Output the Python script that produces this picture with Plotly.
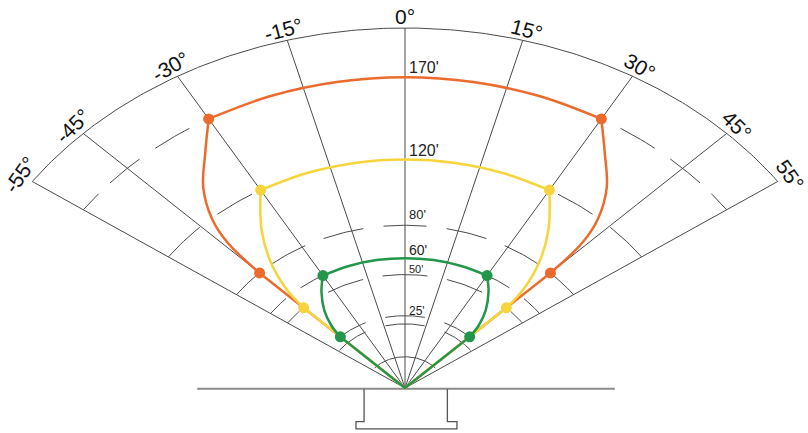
import math
import plotly.graph_objects as go

# ---------------- data ----------------
angle_ticks = [-55, -45, -30, -15, 0, 15, 30, 45, 55]
angle_tick_text = ["-55°", "-45°", "-30°", "-15°", "0°", "15°", "30°", "45°", "55°"]

range_labels = ["170'", "120'", "80'", "60'", "50'", "25'"]
range_label_dist = [170, 120, 80, 60, 50, 25]

outer_dist = 200

# detection-zone outlines (angle in degrees, distance in feet), drawn in three pieces:
# left flank, top arc, right flank
orange_left_theta = [-45, -44, -42, -38.5, -34, -30]
orange_left_dist = [80, 104, 120, 137, 153, 170]
orange_top_theta = [-30, -20, -10, 0, 10, 20, 30]
orange_top_dist = [170, 170, 170, 170, 170, 170, 170]
orange_right_theta = [30, 34, 38.5, 42, 44, 45]
orange_right_dist = [170, 153, 137, 120, 104, 80]

yellow_left_theta = [-45, -43.5, -40, -35.5, -30]
yellow_left_dist = [50, 64, 82, 100, 120]
yellow_top_theta = [-30, -20, -10, 0, 10, 20, 30]
yellow_top_dist = [120, 120, 120, 120, 120, 120, 120]
yellow_right_theta = [30, 35.5, 40, 43.5, 45]
yellow_right_dist = [120, 100, 82, 64, 50]

green_left_theta = [-45, -43, -39.5, -34.5, -30]
green_left_dist = [25, 33, 42, 52, 60]
green_top_theta = [-30, -20, -10, 0, 10, 20, 30]
green_top_dist = [60, 60, 60, 60, 60, 60, 60]
green_right_theta = [30, 34.5, 39.5, 43, 45]
green_right_dist = [60, 52, 42, 33, 25]

marker_theta = [-45, -30, 30, 45]
orange_marker_dist = [80, 170, 170, 80]
yellow_marker_dist = [50, 120, 120, 50]
green_marker_dist = [25, 60, 60, 25]

# dashed range arcs: distance and the angular spans of their dashes
ring_dist = [0, 20, 25, 50, 60, 80, 120, 170]
ring_dashes = [
    [(-50, 50)],
    [(-54, -29), (-14, 14), (29, 54)],
    [(-45, -25.5), (-12.5, 12.5), (25.5, 45)],
    [(-55, -47.5), (-32.5, -17), (-9, 9), (17, 32.5), (47.5, 55)],
    [(-55, -46.5), (-39.5, -28), (28, 39.5), (46.5, 55)],
    [(-55, -46.5), (-40.5, -29), (-23.3, -11.7), (-6, 6), (11.7, 23.3), (29, 40.5), (46.5, 55)],
    [(-55, -45.3), (-40.5, -32), (32, 40.5), (45.3, 55)],
    [(-55, -51.3), (-48.7, -42.5), (-39.5, -33.3), (33.3, 39.5), (42.5, 48.7), (51.3, 55)],
]

# sensor mount drawn under the origin (x, y in chart units)
baseline_x = [-100, 101]
mount_x = [-19.7, -19.7, -23.6, -23.6, 25.0, 25.0, 20.4, 20.4]
mount_y = [-0.6, -20.5, -20.5, -24.9, -24.9, -20.5, -20.5, -0.6]

# ---------------- geometry helpers ----------------
HOLE = 19.0  # the 0' ring sits this far from the sensor point


def polar_xy(theta_deg, dist):
    r = dist + HOLE
    t = math.radians(theta_deg)
    return r * math.sin(t), r * math.cos(t)


def curve_xy(thetas, dists):
    pts = [polar_xy(t, d) for t, d in zip(thetas, dists)]
    return [p[0] for p in pts], [p[1] for p in pts]


def arc_xy(dist, a0, a1, step=1.0):
    n = max(2, int(abs(a1 - a0) / step) + 1)
    xs, ys = [], []
    for i in range(n + 1):
        a = a0 + (a1 - a0) * i / n
        x, y = polar_xy(a, dist)
        xs.append(x)
        ys.append(y)
    return xs, ys


W, H = 808, 433
ORIGIN_PX = (405, 388)
PX_PER_UNIT_X = 455 / (outer_dist + HOLE)
PX_PER_UNIT_Y = 360 / (outer_dist + HOLE)

ORANGE = "#EC6A2C"
YELLOW = "#F6D53C"
GREEN = "#22964A"
GRID = "#4a4a4a"
FONT = "Liberation Sans, Arial, sans-serif"

fig = go.Figure()

# baseline + mount
fig.add_trace(go.Scatter(x=baseline_x, y=[-0.5, -0.5], mode="lines",
                         line=dict(color="#8a8a8a", width=2), hoverinfo="skip"))
fig.add_trace(go.Scatter(x=mount_x, y=mount_y, mode="lines",
                         line=dict(color="#555555", width=1.3), hoverinfo="skip"))

# spokes
sx, sy = [], []
for a in angle_ticks:
    x1, y1 = polar_xy(a, outer_dist)
    sx += [0.0, x1, None]
    sy += [0.0, y1, None]
fig.add_trace(go.Scatter(x=sx, y=sy, mode="lines", line=dict(color=GRID, width=1), hoverinfo="skip"))

# outer arc
ox, oy = arc_xy(outer_dist, angle_ticks[0], angle_ticks[-1], 0.5)
fig.add_trace(go.Scatter(x=ox, y=oy, mode="lines", line=dict(color=GRID, width=1), hoverinfo="skip"))

# dashed range arcs
gx, gy = [], []
for d, dashes in zip(ring_dist, ring_dashes):
    for a0, a1 in dashes:
        xs, ys = arc_xy(d, a0, a1)
        gx += xs + [None]
        gy += ys + [None]
fig.add_trace(go.Scatter(x=gx, y=gy, mode="lines", line=dict(color=GRID, width=1), hoverinfo="skip"))

# zones
zones = [
    ((orange_left_theta, orange_left_dist), (orange_top_theta, orange_top_dist),
     (orange_right_theta, orange_right_dist), orange_marker_dist, ORANGE),
    ((yellow_left_theta, yellow_left_dist), (yellow_top_theta, yellow_top_dist),
     (yellow_right_theta, yellow_right_dist), yellow_marker_dist, YELLOW),
    ((green_left_theta, green_left_dist), (green_top_theta, green_top_dist),
     (green_right_theta, green_right_dist), green_marker_dist, GREEN),
]
for left, top, right, mdists, color in zones:
    # straight legs from the sensor to the outermost-angle points
    lx0, ly0 = polar_xy(left[0][0], left[1][0])
    lx1, ly1 = polar_xy(right[0][-1], right[1][-1])
    fig.add_trace(go.Scatter(x=[lx0, 0, lx1], y=[ly0, 0, ly1], mode="lines",
                             line=dict(color=color, width=2.5), hoverinfo="skip"))
    for thetas, dists in (left, top, right):
        cx, cy = curve_xy(thetas, dists)
        fig.add_trace(go.Scatter(x=cx, y=cy, mode="lines",
                                 line=dict(color=color, width=2.5, shape="spline", smoothing=1.0),
                                 hoverinfo="skip"))
    mx, my = curve_xy(marker_theta, mdists)
    fig.add_trace(go.Scatter(x=mx, y=my, mode="markers",
                             marker=dict(color=color, size=11), hoverinfo="skip"))

annotations = []
# angle labels around the outer arc
for a, txt in zip(angle_ticks, angle_tick_text):
    x, y = polar_xy(a, outer_dist + 7)
    annotations.append(dict(x=x, y=y, text=txt, showarrow=False, textangle=a,
                            xanchor="center", yanchor="middle",
                            font=dict(family=FONT, size=21, color="#111111")))

# range labels along the 0° spoke
label_sizes = [16, 16, 13, 14, 11, 12]
label_shift = [10, 9.5, 11, 8, 5.5, 4.7]
for txt, d, fs, sh in zip(range_labels, range_label_dist, label_sizes, label_shift):
    x, y = polar_xy(0, d)
    annotations.append(dict(x=1.0, y=y, text=txt, showarrow=False, xanchor="left", yanchor="middle",
                            yshift=sh, font=dict(family=FONT, size=fs, color="#222222")))

fig.update_layout(
    width=W, height=H,
    margin=dict(l=0, r=0, t=0, b=0),
    paper_bgcolor="white", plot_bgcolor="white",
    showlegend=False,
    annotations=annotations,
    xaxis=dict(visible=False, range=[-ORIGIN_PX[0] / PX_PER_UNIT_X, (W - ORIGIN_PX[0]) / PX_PER_UNIT_X]),
    yaxis=dict(visible=False, range=[-(H - ORIGIN_PX[1]) / PX_PER_UNIT_Y, ORIGIN_PX[1] / PX_PER_UNIT_Y]),
)

fig.write_html("out.html", config={"displayModeBar": False},
               post_script="document.body.style.margin='0';")
